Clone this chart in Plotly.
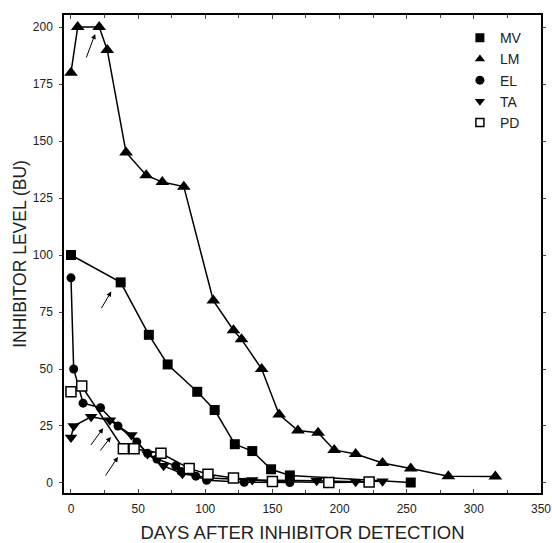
import plotly.graph_objects as go

# ---- data (days after inhibitor detection, inhibitor level in BU) ----
mv_days = [0, 37, 58, 72, 94, 107, 122, 135, 149, 163, 253]
mv_bu = [100, 88, 65, 52, 40, 32, 17, 14, 6, 3.3, 0.2]

lm_days = [0, 5, 21, 27, 41, 56, 68, 84, 106, 121, 127, 142, 155, 169, 184, 196, 212, 232, 253, 281, 316]
lm_bu = [180, 200, 200, 190, 145, 135, 132, 130, 80, 67, 63, 50, 30, 23, 22, 14.5, 12.7, 8.8, 6.3, 3, 2.8]

el_days = [0, 2, 9, 22, 35, 49, 57, 64, 78, 82, 93, 101, 129, 163]
el_bu = [90, 50, 35, 33, 25, 18, 13, 10.5, 7.5, 5, 3, 1.2, 0.3, 0.2]

ta_days = [0, 2, 15, 29, 45, 57, 69, 83, 103, 135, 183, 212, 232]
ta_bu = [20, 25, 29, 27.5, 21, 12.7, 7.5, 4, 2.2, 1.3, 1.0, 0.5, 0.8]

pd_days = [0, 8, 39, 47, 67, 88, 102, 121, 150, 192, 222]
pd_bu = [40, 42.5, 15, 15, 13, 6.4, 3.8, 2.2, 0.6, 0.2, 0.4]

x_ticks = [0, 50, 100, 150, 200, 250, 300, 350]
y_ticks = [0, 25, 50, 75, 100, 125, 150, 175, 200]

# arrows: (tail_x, tail_y, head_x, head_y)
arrows = [
    (11, 186, 18, 197),
    (22, 76, 30, 84),
    (14, 16, 24, 24),
    (21, 13.6, 29.7, 20.2),
    (25, 2.6, 35, 11.4),
]

series = [
    ("MV", mv_days, mv_bu, "square", 10, "black"),
    ("LM", lm_days, lm_bu, "triangle-up", 12, "black"),
    ("EL", el_days, el_bu, "circle", 9, "black"),
    ("TA", ta_days, ta_bu, "triangle-down", 11, "black"),
    ("PD", pd_days, pd_bu, "square-open", 10, "black"),
]

fig = go.Figure()
for name, xs, ys, sym, size, col in series:
    marker = dict(symbol=sym, size=size, color=col)
    if sym.endswith("open"):
        marker = dict(symbol="square", size=size, color="white",
                      line=dict(color="black", width=1.5))
    fig.add_trace(go.Scatter(x=xs, y=ys, mode="lines+markers", name=name,
                             line=dict(color="black", width=1.5),
                             marker=marker, showlegend=False))

# legend-only entries (markers only)
for name, xs, ys, sym, size, col in series:
    marker = dict(symbol=sym, size=9, color=col)
    if sym.endswith("open"):
        marker = dict(symbol="square", size=8, color="white",
                      line=dict(color="black", width=1.5))
    fig.add_trace(go.Scatter(x=[None], y=[None], mode="markers", name=name,
                             marker=marker, showlegend=True))

for tx, ty, hx, hy in arrows:
    fig.add_annotation(x=hx, y=hy, ax=tx, ay=ty, xref="x", yref="y",
                       axref="x", ayref="y", text="", showarrow=True,
                       arrowhead=2, arrowsize=1, arrowwidth=1,
                       arrowcolor="black")

fig.update_layout(
    width=552, height=543,
    margin=dict(l=64, r=11, t=15, b=50),
    paper_bgcolor="white", plot_bgcolor="white",
    font=dict(family="Liberation Sans, Arial, sans-serif", color="#111"),
    legend=dict(x=0.83, y=0.985, xanchor="left", yanchor="top",
                bgcolor="rgba(0,0,0,0)", font=dict(size=14, color="#222"),
                itemwidth=30, tracegroupgap=0),
    xaxis=dict(range=[-5.2, 350], tickvals=x_ticks, ticks="inside", ticklen=4,
               showline=True, linecolor="black", linewidth=1.5, mirror="ticks",
               showgrid=False, zeroline=False, tickfont=dict(size=12, color="#222"),
               ticklabelstandoff=4, automargin=False,
               minor=dict(tickvals=[25, 75, 125, 175, 225, 275, 325], ticks="inside", ticklen=3),
               title=dict(text="DAYS AFTER INHIBITOR DETECTION",
                          font=dict(size=18.5, color="#222"), standoff=12)),
    yaxis=dict(range=[-4.4, 205.3], tickvals=y_ticks, ticks="outside", ticklen=3,
               showline=True, linecolor="black", linewidth=1.5, mirror="ticks",
               showgrid=False, zeroline=False, tickfont=dict(size=12, color="#222"),
               ticklabelstandoff=4, automargin=False,
               title=dict(text="INHIBITOR LEVEL (BU)",
                          font=dict(size=17.5, color="#222"), standoff=2)),
)

fig.write_html("out.html", config={"displayModeBar": False},
               post_script="document.body.style.margin='0';"
                           "document.body.style.overflow='hidden';")
